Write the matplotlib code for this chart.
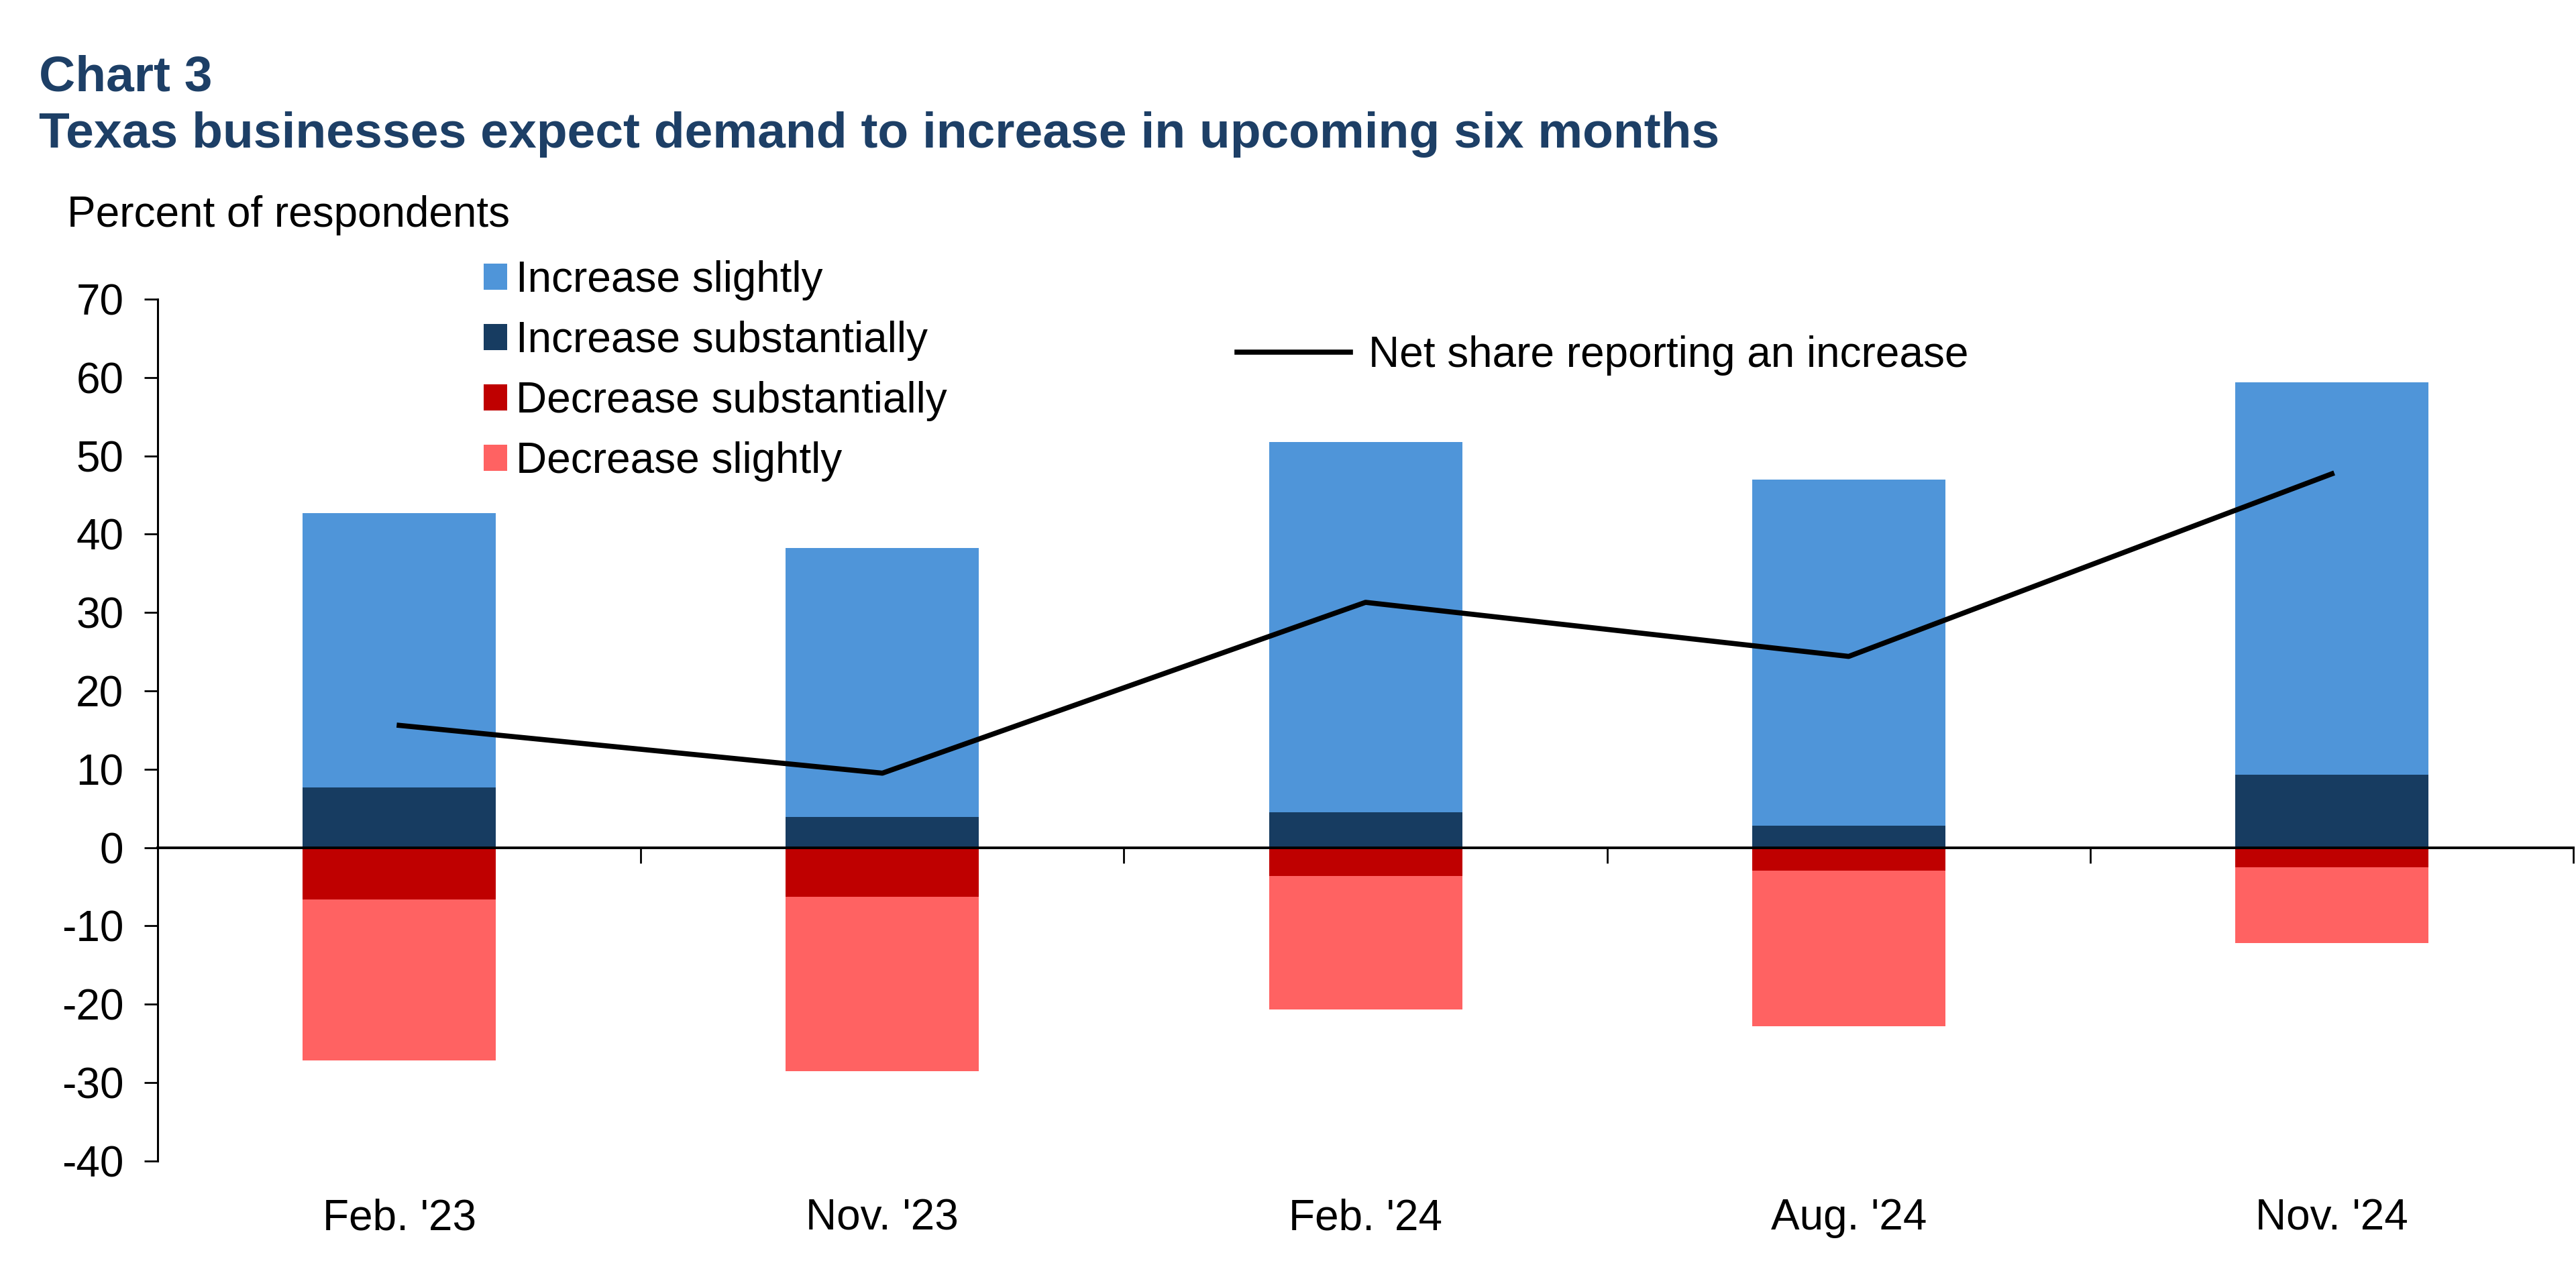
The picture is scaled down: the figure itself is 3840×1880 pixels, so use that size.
import numpy as np
import matplotlib
matplotlib.use("Agg")
import matplotlib.pyplot as plt

plt.rcParams['font.family'] = ['Liberation Sans', 'DejaVu Sans']
plt.rcParams['axes.unicode_minus'] = False

# data (percent of respondents)
cats = ["Feb. '23", "Nov. '23", "Feb. '24", "Aug. '24", "Nov. '24"]
inc_sub = [7.7, 3.9, 4.5, 2.8, 9.3]
inc_sli = [35.0, 34.3, 47.3, 44.2, 50.1]
dec_sub = [-6.6, -6.3, -3.6, -2.9, -2.5]
dec_sli = [-20.6, -22.2, -17.1, -19.9, -9.7]
net = [15.6, 9.5, 31.3, 24.4, 47.7]
yticks = [-40, -30, -20, -10, 0, 10, 20, 30, 40, 50, 60, 70]

c_inc_sli = '#4F95D9'
c_inc_sub = '#173C61'
c_dec_sub = '#BF0000'
c_dec_sli = '#FF6262'
navy = '#1D3F66'

fs = 46

fig = plt.figure(figsize=(38.4, 18.8), dpi=100)
ax = fig.add_axes([0.0612, 0.0793, 0.9378, 0.6835])

x = np.arange(len(cats))
w = 0.4
b1 = ax.bar(x, inc_sli, w, bottom=inc_sub, color=c_inc_sli, zorder=2, label='Increase slightly')
b2 = ax.bar(x, inc_sub, w, color=c_inc_sub, zorder=2, label='Increase substantially')
b3 = ax.bar(x, dec_sub, w, color=c_dec_sub, zorder=2, label='Decrease substantially')
b4 = ax.bar(x, dec_sli, w, bottom=dec_sub, color=c_dec_sli, zorder=2, label='Decrease slightly')
ln, = ax.plot(x, net, color='black', lw=5.5, zorder=4, label='Net share reporting an increase')

ymin, ymax = yticks[0], yticks[-1]
ax.set_ylim(ymin, ymax)
ax.set_xlim(-0.5, len(cats) - 0.5)
ax.set_yticks(yticks)
ax.tick_params(axis='y', direction='out', length=14.5, width=2, pad=22, labelsize=fs)
ax.set_xticks(x, cats)
ax.tick_params(axis='x', length=0, pad=40, labelsize=fs)
for s in ['top', 'right', 'bottom']:
    ax.spines[s].set_visible(False)
ax.spines['left'].set_linewidth(2.2)

# zero line with tick marks between categories
sec = ax.secondary_xaxis(-ymin / (ymax - ymin))
sec.set_xticks(x + 0.5, [''] * len(cats))
sec.tick_params(axis='x', direction='out', length=16.5, width=2)
sec.spines['bottom'].set_linewidth(2.8)
sec.set_zorder(5)

fig.legend(handles=[b1, b2, b3, b4], loc='upper left',
           bbox_to_anchor=(721 / 3840, 1 - 388 / 1880), frameon=False,
           fontsize=fs, handlelength=0.55, handleheight=0.55,
           handletextpad=0.2, labelspacing=0.47, borderpad=0, borderaxespad=0)
fig.legend(handles=[ln], loc='upper left',
           bbox_to_anchor=(1844 / 3840, 1 - 500 / 1880), frameon=False,
           fontsize=fs, handlelength=2.65, handletextpad=0.42,
           borderpad=0, borderaxespad=0)

fig.text(58 / 3840, 1 - 135 / 1880, 'Chart 3', fontsize=54, fontweight='bold',
         color=navy, va='baseline')
fig.text(58 / 3840, 1 - 220 / 1880,
         'Texas businesses expect demand to increase in upcoming six months',
         fontsize=54, fontweight='bold', color=navy, va='baseline')
fig.text(100 / 3840, 1 - 338 / 1880, 'Percent of respondents', fontsize=fs,
         va='baseline')

fig.savefig('out.png', dpi=100, facecolor='white')
